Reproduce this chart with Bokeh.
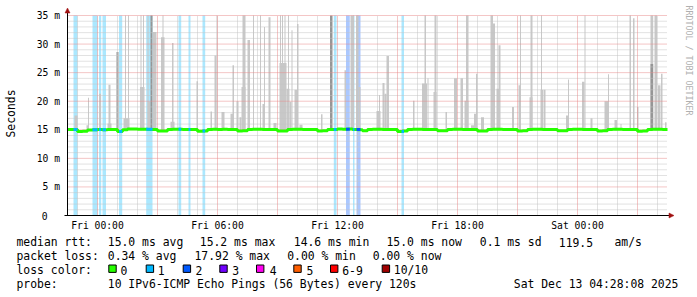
import math
from bokeh.plotting import figure
from bokeh.models import Range1d
from bokeh.core.properties import value
from bokeh.embed import file_html
from bokeh.resources import INLINE

# ---------------- data ----------------
# time axis: hours relative to Fri 00:00 ; values in milliseconds
t_start, t_end = -1.5, 28.5
y_max = 35.0
x_tick_hours = [0, 6, 12, 18, 24]
x_tick_labels = ["Fri 00:00", "Fri 06:00", "Fri 12:00", "Fri 18:00", "Sat 00:00"]
y_tick_values = [0, 5, 10, 15, 20, 25, 30, 35]
y_tick_labels = ["0", "5 m", "10 m", "15 m", "20 m", "25 m", "30 m", "35 m"]

median_step = 0.25
median_ms = [
    15.05, 15.05, 14.70, 14.75, 14.95, 15.00, 15.05, 15.00,
    15.05, 15.05, 14.70, 15.00, 15.15, 15.15, 15.10, 15.10,
    15.05, 15.05, 14.80, 14.80, 15.05, 15.10, 15.10, 15.05,
    15.05, 15.05, 14.75, 14.80, 15.05, 15.10, 15.05, 15.10,
    15.05, 15.05, 14.80, 14.85, 15.05, 15.10, 15.10, 15.05,
    15.05, 15.05, 14.80, 14.80, 15.05, 15.10, 15.10, 15.05,
    15.05, 15.05, 14.80, 14.85, 15.05, 15.05, 15.15, 15.10,
    15.15, 15.05, 15.00, 14.85, 15.05, 15.10, 15.10, 15.05,
    15.05, 15.05, 14.70, 14.80, 15.05, 15.10, 15.10, 15.05,
    15.05, 15.05, 14.85, 14.85, 15.05, 15.10, 15.10, 15.05,
    15.05, 15.05, 14.80, 14.80, 15.05, 15.10, 15.10, 15.05,
    15.05, 15.05, 14.80, 14.85, 15.05, 15.10, 15.10, 15.05,
    15.05, 15.05, 14.85, 14.85, 15.05, 15.10, 15.10, 15.05,
    15.05, 15.05, 14.80, 14.85, 15.05, 15.10, 15.10, 15.05,
    15.05, 15.05, 14.75, 14.80, 15.05, 15.10, 15.10, 15.05,
]

loss_start = [-1.2, -0.25, 0.075, 0.25, 1.075, 2.435, 4.05, 4.55, 5.25, 11.815, 12.425, 12.775, 12.95, 15.2]
loss_end = [-1.0, 0.0, 0.185, 0.425, 1.235, 2.75, 4.185, 4.65, 5.385, 11.95, 12.615, 12.85, 13.15, 15.325]
loss_count = [1, 1, 1, 1, 1, 1, 1, 1, 1, 1, 2, 1, 2, 1]

smoke_start = [-1.15, -0.55, -0.475, 0.075, 0.50, 0.55, 1.30, 1.375, 1.525, 2.125, 2.15, 2.275,
               2.50, 2.50, 2.775, 3.175, 3.25, 3.65, 3.725, 4.95, 5.65, 5.85, 5.95, 6.20,
               6.65, 6.75, 6.95, 7.10, 7.20, 7.25, 7.50, 7.775, 8.125, 8.25, 8.325, 8.55,
               8.80, 9.10, 9.125, 9.225, 9.35, 9.45, 9.525, 9.60, 9.70, 9.85, 9.975, 10.10,
               11.175, 12.35, 12.65, 12.925, 13.05, 13.95, 14.075, 14.25, 14.35, 14.45, 15.775, 16.225,
               16.35, 16.50, 16.80, 16.85, 17.40, 17.825, 18.15, 18.35, 18.425, 18.675, 18.825, 18.925,
               19.175, 19.65, 19.775, 19.95, 20.05, 20.725, 21.05, 21.125, 21.60, 21.65, 22.15, 22.175,
               22.30, 23.425, 23.525, 24.225, 24.35, 24.65, 25.35, 25.525, 25.85, 26.15, 26.60, 26.775,
               26.975, 27.65, 27.85, 28.025, 28.175, 28.375]
smoke_end = [-1.00, -0.45, -0.425, 0.175, 0.70, 0.65, 1.60, 1.425, 1.575, 2.35, 2.20, 2.325,
             2.65, 2.55, 2.95, 3.35, 3.30, 3.85, 3.80, 5.025, 5.725, 5.95, 6.00, 6.35,
             6.80, 6.825, 7.05, 7.20, 7.40, 7.40, 7.625, 7.825, 8.175, 8.375, 8.375, 8.65,
             8.95, 9.45, 9.175, 9.275, 9.40, 9.60, 9.575, 9.70, 9.75, 10.00, 10.05, 10.25,
             11.25, 12.425, 12.825, 13.05, 13.15, 14.15, 14.125, 14.35, 14.45, 14.575, 15.85, 16.475,
             16.425, 16.55, 16.95, 16.95, 17.475, 17.975, 18.275, 18.55, 18.55, 18.825, 18.95, 19.00,
             19.325, 19.775, 19.875, 20.075, 20.15, 20.825, 21.175, 21.175, 21.75, 21.75, 22.275, 22.225,
             22.40, 23.55, 23.575, 24.35, 24.40, 24.75, 25.525, 25.575, 25.975, 26.20, 26.675, 26.85,
             27.05, 27.785, 27.975, 28.15, 28.25, 28.45]
smoke_top = [17.5, 15.8, 20.6, 21.3, 16.1, 22.9, 17.0, 35, 35, 22.5, 35, 35,
             19.9, 35, 32.1, 31.2, 35, 16.4, 30.2, 23.5, 18.2, 28.0, 35, 18.1,
             17.8, 26.3, 20.0, 17.2, 22.5, 35, 30.7, 35, 35, 19.5, 33.0, 34.7,
             16.2, 26.7, 35, 35, 35, 22.2, 35, 19.9, 32.4, 22.0, 33.5, 15.9,
             17.7, 25.4, 35, 35, 22.5, 18.3, 21.1, 23.2, 21.3, 27.9, 20.1, 23.1,
             35, 24.0, 21.6, 35, 18.1, 24.0, 24.0, 20.1, 35, 15.8, 17.8, 24.8,
             17.2, 35, 33.6, 22.2, 29.8, 19.0, 22.8, 35, 20.7, 35, 22.0, 35,
             22.0, 17.5, 23.8, 23.4, 35, 17.0, 20.0, 24.7, 16.7, 16.0, 35, 34.5,
             19.0, 35, 35, 22.8, 24.8, 16.3]

dark_start = [0.95, 2.65, 11.625, 27.65]
dark_end = [1.05, 2.75, 11.75, 27.785]
dark_top = [28.6, 35, 35, 26.5]

loss_labels = ["0", "1", "2", "3", "4", "5", "6-9", "10/10"]
loss_colors = ["#26ff00", "#00b8ff", "#0059ff", "#7000ff", "#ff00f0", "#ff5e00", "#ff0000", "#a00000"]

legend_line1 = ["median rtt:", "15.0 ms avg", "15.2 ms max", "14.6 ms min", "15.0 ms now",
                "0.1 ms sd", "119.5", "am/s"]
legend_line2 = ["packet loss:", "0.34 % avg", "17.92 % max", "0.00 % min", "0.00 % now"]
legend_line3_title = "loss color:"
legend_line4 = ["probe:", "10 IPv6-ICMP Echo Pings (56 Bytes) every 120s", "Sat Dec 13 04:28:08 2025"]

# ---------------- layout helpers (canvas pixel -> data) ----------------
W, H = 697, 297
PX_PER_H = 20.0                 # 600 px for 30 h
PX_PER_MS = 200.0 / y_max       # 200 px for 35 ms
X0_PX, Y0_PX = 97.0, 215.0      # canvas position of Fri 00:00 / 0 ms


def X(px):
    return (px - X0_PX) / PX_PER_H


def Y(py):
    return (Y0_PX - py) / PX_PER_MS


MONO = "DejaVu Sans Mono"

p = figure(width=W, height=H,
           x_range=Range1d(X(0), X(W)), y_range=Range1d(Y(H), Y(0)),
           output_backend="svg", toolbar_location=None,
           min_border_left=0, min_border_right=0, min_border_top=0, min_border_bottom=0)
p.outline_line_color = None
p.background_fill_color = "white"
p.border_fill_color = "white"
p.axis.visible = False
p.xgrid.grid_line_color = None
p.ygrid.grid_line_color = None

# loss bands
p.quad(left=loss_start, right=loss_end, bottom=0, top=y_max,
       fill_color=[loss_colors[n] for n in loss_count], fill_alpha=0.33, line_color=None)

# smoke
p.quad(left=smoke_start, right=smoke_end, bottom=14.9, top=smoke_top,
       fill_color="#c8c8c8", line_color=None)
p.quad(left=dark_start, right=dark_end, bottom=14.9, top=dark_top,
       fill_color="#969696", line_color=None)

# grid
hours = list(range(math.ceil(t_start), math.floor(t_end) + 1))
minor_h = [h for h in hours if h % 3 != 0]
major_h = [h for h in hours if h % 3 == 0]
minor_v = [m for m in range(1, int(y_max) + 1) if m % 5 != 0]
major_v = [m for m in range(5, int(y_max) + 1, 5)]
p.segment(x0=minor_h, x1=minor_h, y0=0, y1=y_max, line_color="#c4c4c4", line_dash="1 1", line_width=1)
p.segment(x0=t_start, x1=t_end, y0=minor_v, y1=minor_v, line_color="#c4c4c4", line_dash="1 1", line_width=1)
p.segment(x0=major_h, x1=major_h, y0=0, y1=y_max, line_color="#e88c8c", line_dash="1 1", line_width=1)
p.segment(x0=t_start, x1=t_end, y0=major_v, y1=major_v, line_color="#e88c8c", line_dash="1 1", line_width=1)

# median
mx = [t_start + i * median_step for i in range(len(median_ms))] + [t_end]
my = median_ms + [median_ms[-1]]
p.step(x=mx, y=my, mode="after", line_color=loss_colors[0], line_width=3)
for s, e, n in zip(loss_start, loss_end, loss_count):
    idx = min(len(median_ms) - 1, max(0, int((s - t_start) / median_step)))
    v = median_ms[idx]
    p.segment(x0=[s], x1=[e], y0=[v], y1=[v], line_color=loss_colors[n], line_width=3)

# axis lines + arrows
p.segment(x0=[t_start], x1=[t_start], y0=[0], y1=[Y(9)], line_color="black", line_width=1)
p.segment(x0=[X(64)], x1=[X(669)], y0=[0], y1=[0], line_color="black", line_width=1)
p.patch(x=[X(64.5), X(69.5), X(67)], y=[Y(12.5), Y(12.5), Y(7.5)],
        fill_color="#a01010", line_color="#a01010", line_width=0.5)
p.patch(x=[X(668.5), X(668.5), X(673.5)], y=[Y(212.5), Y(217.5), Y(215)],
        fill_color="#a01010", line_color="#a01010", line_width=0.5)

# tick labels (positioned through the scales at tick values)
p.text(x=x_tick_hours, y=Y(225.2), text=x_tick_labels, text_font=value(MONO),
       text_font_size="9.7px", text_color="black", text_align="center", text_baseline="middle")
yl = [v for v in y_tick_values if v != 0]
p.text(x=X(59.5), y=yl, text=[l for v, l in zip(y_tick_values, y_tick_labels) if v != 0],
       text_font=value(MONO), text_font_size="9.7px", text_color="black",
       text_align="right", text_baseline="middle")
p.text(x=X(47), y=[0], text=[y_tick_labels[0]], text_font=value(MONO), text_font_size="9.7px",
       text_color="black", text_align="right", text_baseline="middle")


def text(txts, xs_px, y_px, size="11.4px", color="black", angle=0.0, align="left", base="middle"):
    p.text(x=[X(v) for v in xs_px], y=[Y(y_px)] * len(txts), text=txts, text_font=value(MONO),
           text_font_size=size, text_color=color, angle=angle, text_align=align, text_baseline=base)


text(["Seconds"], [10.5], 113, angle=math.pi / 2, align="center")
text(["RRDTOOL / TOBI OETIKER"], [688], 60, size="8.3px", color="#b0b0b0",
     angle=-math.pi / 2, align="center")

c1, c2, c3, c4 = 241.5, 255.5, 269.5, 283.5
text(legend_line1, [16, 107.3, 199.3, 293.3, 386, 479.3, 558.3, 614], c1)
text(legend_line2, [16, 107.3, 194, 286.7, 372.3], c2)
sw_x = [108.3, 145.7, 182.7, 219.3, 256, 293.3, 330, 381.7]
lb_x = [120, 157.3, 195, 231.7, 269.3, 306, 341.7, 393.3]
p.quad(left=[X(v) for v in sw_x], right=[X(v + 7.4) for v in sw_x],
       top=Y(264.5), bottom=Y(271.9), fill_color=loss_colors, line_color="black", line_width=1)
text([legend_line3_title] + loss_labels, [16] + lb_x, c3)
text(legend_line4, [16, 107.3, 513.3], c4)

open("out.html", "w").write(file_html(p, INLINE))
